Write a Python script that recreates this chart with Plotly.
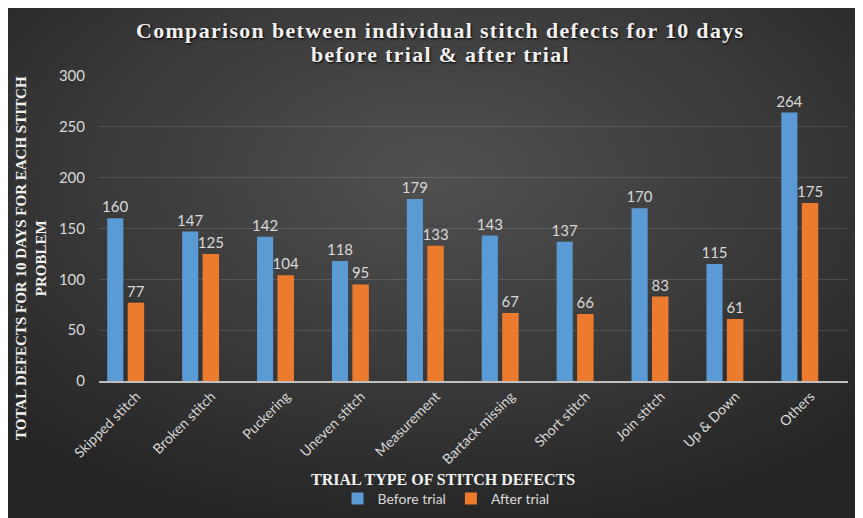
import base64
import plotly.graph_objects as go

categories = ["Skipped stitch", "Broken stitch", "Puckering", "Uneven stitch", "Measurement",
              "Bartack missing", "Short stitch", "Join stitch", "Up & Down", "Others"]
before_trial = [160, 147, 142, 118, 179, 143, 137, 170, 115, 264]
after_trial = [77, 125, 104, 95, 133, 67, 66, 83, 61, 175]
y_ticks = [0, 50, 100, 150, 200, 250, 300]

# the page body has an 8px default margin, so the figure is laid out 8px smaller
OFF = 8
W, H = 863 - OFF, 518 - OFF
ML, MR, MT, MB = 99 - OFF, 15, 76 - OFF, 137
PW, PH = W - ML - MR, H - MT - MB


def px(x):
    return (x - OFF - ML) / PW


def py(y):
    return (MT + PH - (y - OFF)) / PH


svg = (
    f'<svg xmlns="http://www.w3.org/2000/svg" width="{W}" height="{H}" viewBox="0 0 {W} {H}" preserveAspectRatio="none">'
    '<defs><radialGradient id="g" cx="50%" cy="33%" r="70%">'
    '<stop offset="0" stop-color="#505050"/><stop offset="0.55" stop-color="#3a3a3a"/>'
    '<stop offset="1" stop-color="#252525"/></radialGradient></defs>'
    f'<rect width="{W}" height="{H}" fill="#e4e4e4"/>'
    f'<rect x="0" y="0" width="{W-1}" height="{H}" fill="url(#g)"/></svg>'
)
bg_src = "data:image/svg+xml;base64," + base64.b64encode(svg.encode()).decode()

label_color = "#d9d9d9"
sans = "Lato, 'Open Sans', sans-serif"
serif = "Liberation Serif, 'Times New Roman', serif"

fig = go.Figure()
fig.add_trace(go.Bar(
    x=categories, y=before_trial, name="Before trial",
    marker=dict(color="#5b9bd5", line=dict(width=0)),
    width=0.215, offset=-0.39,
    text=before_trial, textposition="outside", cliponaxis=False, constraintext="none",
    textfont=dict(family=sans, size=15, color=label_color),
))
fig.add_trace(go.Bar(
    x=categories, y=after_trial, name="After trial",
    marker=dict(color="#ed7b2d", line=dict(width=0)),
    width=0.22, offset=-0.117,
    text=after_trial, textposition="outside", cliponaxis=False, constraintext="none",
    textfont=dict(family=sans, size=15, color=label_color),
))

title_font = dict(family=serif, size=22, color="#f2f2f2", shadow="1px 1px 2px #000")

fig.update_layout(
    width=W, height=H,
    margin=dict(l=ML, r=MR, t=MT, b=MB, autoexpand=False),
    paper_bgcolor="#2b2b2b", plot_bgcolor="rgba(0,0,0,0)",
    barmode="overlay",
    showlegend=True,
    legend=dict(orientation="h", x=px(446), xanchor="center",
                y=py(499), yanchor="middle",
                font=dict(family=sans, size=14, color=label_color),
                bgcolor="rgba(0,0,0,0)", traceorder="normal",
                itemwidth=30, tracegroupgap=0),
    xaxis=dict(
        type="category", range=[-0.5, 9.5], tickangle=-45,
        tickfont=dict(family=sans, size=14, color=label_color),
        showgrid=False, showline=True, linecolor="#bfbfbf", linewidth=1.5,
        ticks="", fixedrange=True,
    ),
    yaxis=dict(
        range=[0, 300], tickvals=y_ticks,
        tickfont=dict(family=sans, size=15, color=label_color),
        showgrid=True, gridcolor="rgba(255,255,255,0.13)", gridwidth=1,
        zeroline=False, showline=False, ticks="", ticklabelstandoff=13,
    ),
    images=[dict(
        source=bg_src, xref="paper", yref="paper",
        x=-ML / PW, y=(PH + MT) / PH, sizex=W / PW, sizey=H / PH,
        xanchor="left", yanchor="top", sizing="stretch", layer="below",
    )],
    annotations=[
        dict(text='<b><span style="letter-spacing:1.3px">Comparison between individual stitch defects for 10 days</span></b>',
             xref="paper", yref="paper",
             x=px(440), y=py(30), xanchor="center", yanchor="middle",
             showarrow=False, font=title_font),
        dict(text='<b><span style="letter-spacing:1.3px">before trial &amp; after trial</span></b>',
             xref="paper", yref="paper",
             x=px(440), y=py(55), xanchor="center", yanchor="middle",
             showarrow=False, font=title_font),
        dict(text="<b>TOTAL DEFECTS FOR 10 DAYS FOR EACH STITCH<br>PROBLEM</b>",
             textangle=-90, xref="paper", yref="paper",
             x=px(31), y=py(258), xanchor="center", yanchor="middle",
             showarrow=False,
             font=dict(family=serif, size=15, color="#f2f2f2")),
        dict(text="<b>TRIAL TYPE OF STITCH DEFECTS</b>",
             xref="paper", yref="paper",
             x=px(443), y=py(479), xanchor="center", yanchor="middle",
             showarrow=False,
             font=dict(family=serif, size=16, color="#f2f2f2")),
    ],
)

fig.write_html("out.html")
